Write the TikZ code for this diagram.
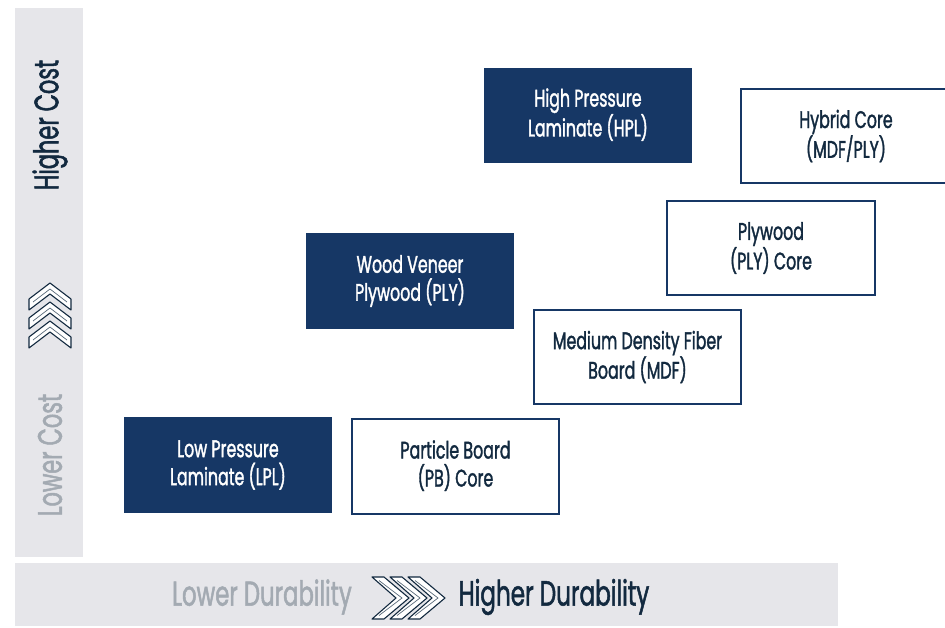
\documentclass[tikz,border=0pt]{standalone}
\usepackage{fontspec}
\setmainfont[FakeStretch=0.66, FakeBold=1.4]{Poppins}
\definecolor{navy}{HTML}{163765}
\definecolor{ink}{HTML}{12293F}
\definecolor{bargrey}{HTML}{E6E6EA}
\definecolor{softgrey}{HTML}{A3AAB2}
\tikzset{
  darkbox/.style={fill=navy, draw=none, text=white, align=center, font=\fontsize{24}{28}\selectfont},
  lightbox/.style={fill=white, draw=navy, line width=2.2pt, text=ink, align=center, font=\fontsize{24}{28}\selectfont},
  chev/.style={fill=white, draw=ink, line width=1.1pt, line join=round},
  chevin/.style={draw=ink!70, line width=0.7pt},
}
\begin{document}
\begin{tikzpicture}[x=1pt,y=-1pt]
\useasboundingbox (0,0) rectangle (945,627);
% grey bars
\fill[bargrey] (15,8) rectangle (83,557);
\fill[bargrey] (15,563) rectangle (838,626);
% axis labels
\node[rotate=90, text=ink, font=\fontsize{34}{36}\selectfont] (hc) at (50,125) {Higher Cost};
\node[rotate=90, text=softgrey, font=\fontsize{34}{36}\selectfont] (lc) at (50,455) {Lower Cost};
\node[text=softgrey, font=\fontsize{34.5}{36}\selectfont] (ld) at (262,597) {Lower Durability};
\node[text=ink, font=\fontsize{35}{36}\selectfont] (hd) at (554,597) {Higher Durability};
% vertical chevrons (pointing up)
\foreach \yy in {321,302,283}{
  \draw[chev] (29,\yy+16) -- (50,\yy) -- (71,\yy+16) -- (71,\yy+27) -- (50,\yy+11) -- (29,\yy+27) -- cycle;
  \draw[chevin] (33,\yy+19) -- (50,\yy+6) -- (67,\yy+19);
}
% horizontal chevrons (pointing right)
\foreach \xx in {372,390,408}{
  \draw[chev] (\xx,577) -- (\xx+24,598) -- (\xx,619) -- (\xx+12,619) -- (\xx+37,598) -- (\xx+12,577) -- cycle;
  \draw[chevin] (\xx+7,580.5) -- (\xx+30,598) -- (\xx+7,615.5);
}
% boxes
\node[darkbox, minimum width=208pt, minimum height=95pt] (hpl) at (588,115.5) {High Pressure\\Laminate (HPL)\vphantom{y}};
\node[lightbox, minimum width=210pt, minimum height=94pt] (hyb) at (846,136) {Hybrid Core\\(MDF/PLY)};
\node[lightbox, minimum width=208pt, minimum height=94pt] (ply) at (771,248) {Plywood\\(PLY) Core};
\node[darkbox, minimum width=208pt, minimum height=96pt] (wvp) at (410,281) {Wood Veneer\\Plywood (PLY)};
\node[lightbox, minimum width=207pt, minimum height=94pt] (mdf) at (637.5,357) {Medium Density Fiber\\Board (MDF)};
\node[darkbox, minimum width=208pt, minimum height=96pt] (lpl) at (228,465) {Low Pressure\\Laminate (LPL)};
\node[lightbox, minimum width=207pt, minimum height=95pt] (pb) at (455.5,466.5) {Particle Board\\(PB) Core\vphantom{y}};
\end{tikzpicture}
\end{document}
